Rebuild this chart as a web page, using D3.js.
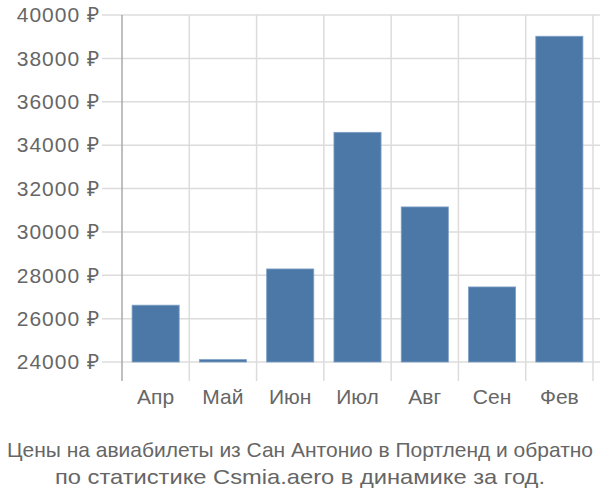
<!DOCTYPE html>
<html><head><meta charset="utf-8">
<script src="https://cdn.jsdelivr.net/npm/d3@7"></script>
<style>body{margin:0;background:#fff}svg{display:block}</style>
</head><body><svg id="c" width="600" height="500"></svg>
<script>
const categories = ["Апр","Май","Июн","Июл","Авг","Сен","Фев"];
const values = [26620, 24110, 28290, 34590, 31150, 27460, 39020];
const yTicks = [24000,26000,28000,30000,32000,34000,36000,38000,40000];
const titleLines = ["Цены на авиабилеты из Сан Антонио в Портленд и обратно","по статистике Csmia.aero в динамике за год."];

(function(){
const svg = d3.select("#c");
const pLeft = 122, pRight = 593, pTop = 15, pBottom = 362;
const x = d3.scaleBand().domain(categories).range([pLeft, pRight]).paddingInner(0.3).paddingOuter(0.15);
const y = d3.scaleLinear().domain([24000, 40000]).range([pBottom, pTop]);
const grid = "#dcdcdc";
const txt = "#666";

svg.append("g").selectAll("line").data(yTicks).join("line")
  .attr("x1", 102).attr("x2", 600)
  .attr("y1", d => y(d)).attr("y2", d => y(d))
  .attr("stroke", grid).attr("stroke-width", 1.5);
const step = x.step();
const bounds = d3.range(categories.length + 1).map(i => pLeft + i * step);
svg.append("g").selectAll("line").data(bounds.slice(1)).join("line")
  .attr("x1", d => d).attr("x2", d => d)
  .attr("y1", pTop).attr("y2", 381)
  .attr("stroke", grid).attr("stroke-width", 1.5);
svg.append("line").attr("x1", pLeft).attr("x2", pLeft).attr("y1", pTop).attr("y2", 381)
  .attr("stroke", "#aaa").attr("stroke-width", 1.5);

svg.append("g").selectAll("rect").data(values).join("rect")
  .attr("x", (d, i) => x(categories[i]))
  .attr("width", x.bandwidth())
  .attr("y", d => y(d))
  .attr("height", d => y(24000) - y(d))
  .attr("fill", "#4c78a8")
  .attr("stroke", "#7d9fc5").attr("stroke-width", 0.8);

svg.append("g").selectAll("text").data(yTicks).join("text")
  .attr("x", 100).attr("y", d => y(d)).attr("dy", "0.35em")
  .attr("text-anchor", "end").attr("fill", txt)
  .style("font", "21px 'Liberation Sans', Arial, sans-serif")
  .style("letter-spacing", "1px")
  .text(d => d + " ₽");

svg.append("g").selectAll("text").data(categories).join("text")
  .attr("x", d => x(d) + x.bandwidth() / 2).attr("y", 404)
  .attr("text-anchor", "middle").attr("fill", txt)
  .style("font", "21px 'Liberation Sans', Arial, sans-serif")
  .text(d => d);

const titleWidths = [586, 490];
svg.append("g").selectAll("text").data(titleLines).join("text")
  .attr("x", 300).attr("y", (d, i) => 457 + i * 27)
  .attr("text-anchor", "middle").attr("fill", txt)
  .attr("textLength", (d, i) => titleWidths[i])
  .attr("lengthAdjust", "spacingAndGlyphs")
  .style("font", "20.8px 'Liberation Sans', sans-serif")
  .text(d => d);
})();
</script></body></html>
